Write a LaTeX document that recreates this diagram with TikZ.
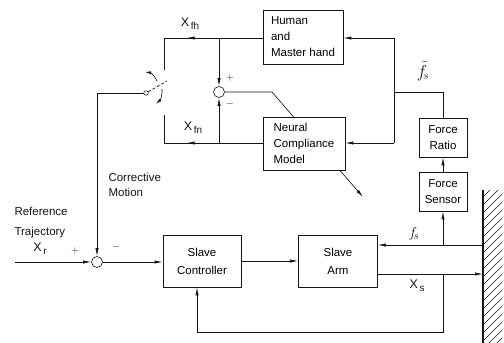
\documentclass[tikz,border=0pt]{standalone}
\usepackage{fontspec}
\setmainfont{Liberation Sans}
\usetikzlibrary{arrows.meta, backgrounds, calc, decorations.markings}
\definecolor{darkline}{HTML}{151515}
\newcommand{\boxfont}{\fontsize{11.5}{16}\selectfont}
\newcommand{\sigfont}{\fontsize{12.5}{14}\selectfont}
\newcommand{\lowsub}[1]{\raisebox{-0.45ex}{\fontsize{10}{10}\selectfont\,#1}}
\tikzset{
  block/.style={rectangle, draw=darkline, fill=white, line width=0.6pt,
                align=center, font=\boxfont, inner sep=2pt},
  slave/.style={block, minimum width=79pt, minimum height=52pt,
                font=\fontsize{11.5}{18}\selectfont},
  junction/.style={circle, draw=darkline, fill=white, line width=0.6pt,
                   minimum size=11pt, inner sep=0pt},
  pivot/.style={circle, draw=darkline, fill=white, line width=0.5pt,
                minimum size=4.5pt, inner sep=0pt},
  wire/.style={line width=0.65pt, draw=darkline},
  flow/.style={wire, -{Latex[length=8pt, width=3.2pt]}},
  swflow/.style={wire, -{Latex[length=6pt, width=3pt]}},
  midflow/.style={wire, postaction={decorate},
                  decoration={markings, mark=at position #1 with {\arrow{Latex[length=8pt, width=3.2pt]}}}},
  sig/.style={font=\sigfont, text=darkline},
  note/.style={font=\boxfont, align=left, anchor=west, text=darkline},
  sign/.style={font=\normalsize, text=darkline},
}

\begin{document}
\begin{tikzpicture}[x=1pt, y=-1pt]
\useasboundingbox (0,0) rectangle (504,343);

% Blocks
\node[block, align=left, minimum width=80pt, minimum height=54pt] (human) at (303,37) {Human\\and\\Master hand};
\node[block, align=left, minimum width=82pt, minimum height=53pt] (ncm) at (304,143.5) {Neural\\Compliance\\Model};
\node[block, minimum width=48pt, minimum height=39pt] (ratio) at (443,137.5) {Force\\Ratio};
\node[block, minimum width=48pt, minimum height=39pt] (sensor) at (443,191.5) {Force\\Sensor};
\node[slave] (arm) at (338,261) {Slave\\Arm};
\node[slave, minimum width=78pt] (ctrl) at (202,261) {Slave\\Controller};

% Summing points and switch
\node[junction] (sum1) at (219,92) {};
\node[junction] (sum2) at (97,262) {};
\node[pivot] (piv) at (146,93) {};

% Corners and taps
\coordinate (fhturn) at (164,38);
\coordinate (swtop) at (164,70);
\coordinate (fnturn) at (164,143);
\coordinate (swbot) at (164,115);
\coordinate (fhtap) at (219,38);
\coordinate (fntap) at (219,143);
\coordinate (fbhuman) at (394,38);
\coordinate (fbncm) at (394,143);
\coordinate (fstap) at (394,92);
\coordinate (ratioin) at (443,92);
\coordinate (adbend) at (272,92);
\coordinate (adtip) at (363,197);
\coordinate (bladeend) at (167,81);
\coordinate (upfrom) at (157,81);
\coordinate (upto) at (145,72);
\coordinate (dnfrom) at (162,89);
\coordinate (dnto) at (156,104);
\coordinate (corturn) at (97,93);
\coordinate (refin) at (15,262);
\coordinate (walltop) at (483,190);
\coordinate (wallbot) at (483,343);
\coordinate (fswall) at (483,245);
\coordinate (xswall) at (483,274);
\coordinate (sensortap) at (443,245);
\coordinate (xstap) at (443,274);
\coordinate (fbturn) at (443,332);
\coordinate (fbctrl) at (197,332);

% Labels
\node[sig] (xfh) at (190,24) {X\lowsub{fh}};
\node[sig] (xfn) at (193,128) {X\lowsub{fn}};
\node[sig, font=\fontsize{18}{20}\selectfont] (fsest) at (423,71) {$\tilde{f}_{\!s}$};
\node[sig, font=\fontsize{15}{17}\selectfont] (fslbl) at (414,234) {$f_{\!s}$};
\node[sig] (xslbl) at (417,286) {X\lowsub{s}};
\node[sig] (xrlbl) at (40,249) {X\lowsub{r}};
\node[note, font=\fontsize{11.5}{20}\selectfont] (reftxt) at (11,223) {Reference\\Trajectory};
\node[note, font=\fontsize{11.5}{15}\selectfont] (cortxt) at (105,184.5) {Corrective\\Motion};
\node[sign] (p1) at (230,78) {$+$};
\node[sign] (m1) at (230,104) {$-$};
\node[sign] (p2) at (75,251) {$+$};
\node[sign] (m2) at (116,247) {$-$};

% Adaptation arrow runs behind the model block
\begin{scope}[on background layer]
  \draw[flow] (sum1.east) -- (adbend) -- (adtip);
\end{scope}

% Master side
\draw[midflow=0.77] (fhturn -| human.west) -- (fhturn);
\draw[wire] (fhturn) -- (swtop);
\draw[flow] (fhtap) -- (sum1.north);
\draw[midflow=0.77] (fnturn -| ncm.west) -- (fnturn);
\draw[wire] (fnturn) -- (swbot);
\draw[flow] (fntap) -- (sum1.south);
\draw[wire] (fbncm) -- (fbhuman);
\draw[flow] (fbhuman) -- (fbhuman -| human.east);
\draw[flow] (fbncm) -- (fbncm -| ncm.east);
\draw[wire] (fstap) -- (ratioin) -- (ratio.north);
\draw[flow] (sensor.north) -- (ratio.south);

% Switch
\draw[wire, densely dashed] (piv) -- (bladeend);
\draw[swflow] (upfrom) to[bend right=30] (upto);
\draw[swflow] (dnfrom) to[bend left=25] (dnto);
\draw[wire] (piv.west) -- (corturn);
\draw[flow] (corturn) -- (sum2.north);

% Slave side
\draw[flow] (refin) -- (sum2.west);
\draw[flow] (sum2.east) -- (sum2.east -| ctrl.west);
\draw[flow] (ctrl.east) -- (ctrl.east -| arm.west);
\draw[flow] (fswall) -- (fswall -| arm.east);
\draw[flow] (sensortap) -- (sensor.south);
\draw[flow] (xswall -| arm.east) -- (xswall);
\draw[wire] (xstap) -- (fbturn) -- (fbctrl);
\draw[flow] (fbctrl) -- (fbctrl |- ctrl.south);

% Environment
\draw[darkline, line width=2.2pt] (walltop) -- (wallbot);
\begin{scope}
  \clip (484.2,190) rectangle (504,343);
  \foreach \y in {196,204,...,364} { \draw[darkline, line width=0.4pt] (484,\y) -- (502,\y-18); }
\end{scope}

\end{tikzpicture}
\end{document}
